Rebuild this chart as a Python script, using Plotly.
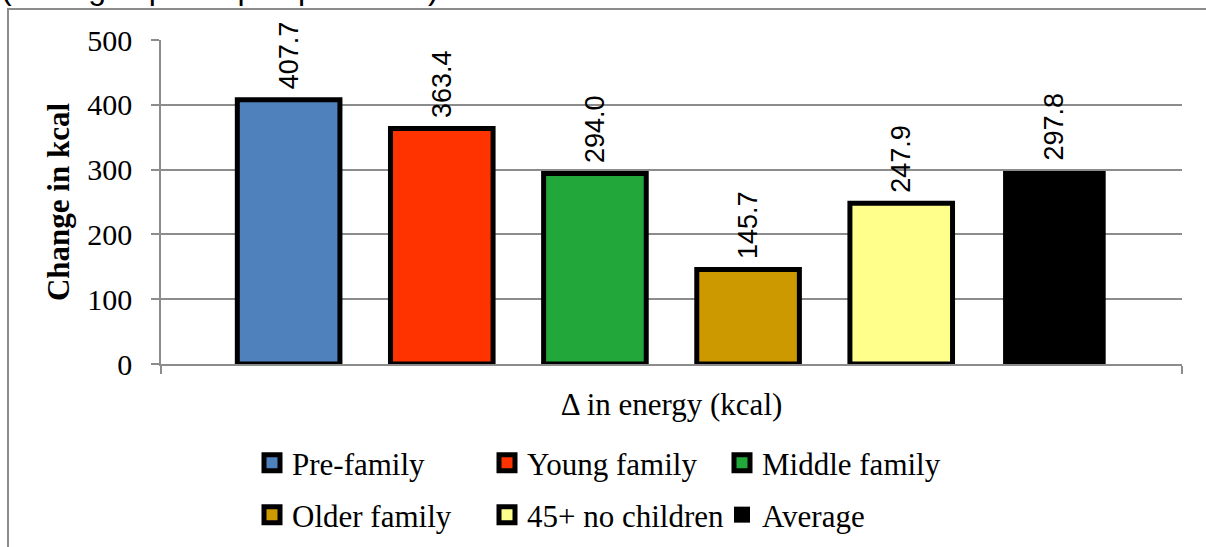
import plotly.graph_objects as go

category = ["Δ in energy (kcal)"]
series_names = ["Pre-family", "Young family", "Middle family", "Older family", "45+ no children", "Average"]
series_values = [407.7, 363.4, 294.0, 145.7, 247.9, 297.8]
series_colors = ["#4F81BD", "#FF3300", "#22A83A", "#CC9900", "#FFFF8C", "#000000"]
outline_widths = [5, 5, 5, 5, 5, 0]
legend_ids = ["legend", "legend", "legend", "legend2", "legend2", "legend2"]
y_ticks = [0, 100, 200, 300, 400, 500]

SERIF = "Liberation Serif"
SANS = "Liberation Sans"
GRID = "#8c8c8c"

W, H = 1206, 547
ML, MR, MT, MB = 161, 24, 40, 183
PW = W - ML - MR
PH = H - MT - MB


def px_x(x):
    return (x - ML) / PW


def px_y(y):
    return 1 - (y - MT) / PH


fig = go.Figure()
for name, val, col, lw in zip(series_names, series_values, series_colors, outline_widths):
    fig.add_trace(go.Bar(
        x=category, y=[val], name=name, legendgroup=name, showlegend=False,
        marker=dict(color=col, line=dict(color="#000000", width=lw)),
        texttemplate="\u00a0%{y:.1f}", textposition="outside", textangle=-90,
        textfont=dict(family=SANS, size=27, color="#000000"),
        constraintext="none", cliponaxis=False,
    ))

# legend entries (square swatches like the original)
for name, col, lw, lg in zip(series_names, series_colors, outline_widths, legend_ids):
    fig.add_trace(go.Scatter(
        x=[None], y=[None], mode="markers", name=name, legendgroup=name, legend=lg,
        marker=dict(symbol="square", size=16, color=col, line=dict(color="#000000", width=lw)),
    ))

fig.update_layout(
    width=W, height=H,
    margin=dict(l=ML, r=MR, t=MT, b=MB, autoexpand=False),
    paper_bgcolor="#ffffff", plot_bgcolor="#ffffff",
    barmode="group", bargap=0.10, bargroupgap=0.33,
    font=dict(family=SERIF, color="#000000"),
    legend=dict(orientation="h", x=px_x(252), xanchor="left", y=px_y(463), yanchor="middle",
                font=dict(family=SERIF, size=31, color="#000000"),
                entrywidth=190, entrywidthmode="pixels", bgcolor="rgba(0,0,0,0)"),
    legend2=dict(orientation="h", x=px_x(252), xanchor="left", y=px_y(515), yanchor="middle",
                 font=dict(family=SERIF, size=31, color="#000000"),
                 entrywidth=190, entrywidthmode="pixels", bgcolor="rgba(0,0,0,0)"),
    xaxis=dict(
        showline=True, linecolor=GRID, linewidth=1.5,
        ticks="outside", tickson="boundaries", ticklen=8, tickcolor=GRID, tickwidth=1.5,
        tickfont=dict(family=SERIF, size=31, color="#000000"),
        ticklabelstandoff=12, showgrid=False,
    ),
    yaxis=dict(
        range=[0, 500], tickvals=y_ticks,
        showline=True, linecolor=GRID, linewidth=1.5,
        ticks="outside", ticklen=8, tickcolor=GRID, tickwidth=1.5,
        showgrid=True, gridcolor=GRID, gridwidth=1.5, zeroline=False,
        tickfont=dict(family=SERIF, size=30, color="#000000"),
        ticklabelstandoff=13,
        title=dict(text="<b>Change in kcal</b>", font=dict(family=SERIF, size=31, color="#000000"), standoff=8),
    ),
    shapes=[dict(type="rect", xref="paper", yref="paper",
                 x0=px_x(8), x1=px_x(1230), y0=px_y(600), y1=px_y(9),
                 line=dict(color=GRID, width=2), fillcolor="rgba(0,0,0,0)", layer="below")],
    annotations=[dict(text="(Changes per capita per week)", xref="paper", yref="paper",
                      x=px_x(0), xanchor="left", y=px_y(7), yanchor="bottom",
                      showarrow=False, borderpad=0,
                      font=dict(family=SANS, size=32, color="#000000"))],
)

fig.write_html("out.html", post_script="document.body.style.margin='0px';",
               config={"displayModeBar": False})
